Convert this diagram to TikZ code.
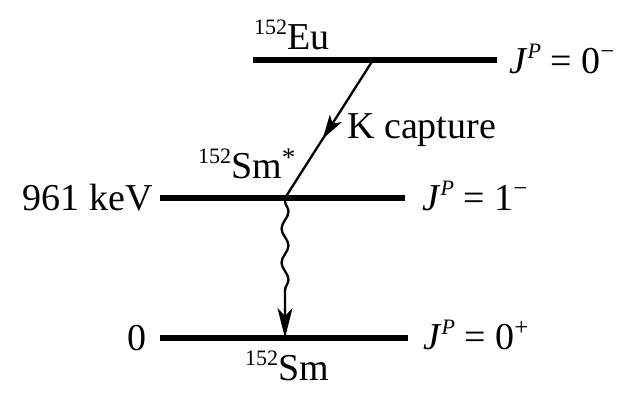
\documentclass[tikz,border=0pt]{standalone}
\usepackage{fontspec}
\setmainfont{Liberation Serif}
\usetikzlibrary{arrows.meta,decorations.pathmorphing,decorations.markings}
\newcommand{\sps}[1]{\raisebox{15pt}{\fontsize{22}{23}\selectfont #1}}
\newcommand{\spsign}[1]{\raisebox{14pt}{\fontsize{25}{26}\selectfont #1}}
\newcommand{\spstar}{\raisebox{12pt}{\fontsize{27}{28}\selectfont *}}
\begin{document}
\begin{tikzpicture}[x=1pt,y=-1pt,
  level/.style={line width=5.5pt},
  lbl/.style={inner sep=0pt, font=\fontsize{38}{40}\selectfont},
  tipend/.style={-{Stealth[length=30pt,width=15pt,inset=8pt]}},
  trans/.style={line width=2.3pt},
]
\useasboundingbox[fill=white] (0,0) rectangle (628,401);
% level end points
\coordinate (euL) at (253,60);  \coordinate (euR) at (497,60);
\coordinate (smxL) at (160,198); \coordinate (smxR) at (405,198);
\coordinate (smL) at (160,338);  \coordinate (smR) at (408,338);
\coordinate (eu) at (373,60);
\coordinate (smx) at (285,198);
\coordinate (sm) at (285,338);
% levels
\draw[level] (euL) -- (euR);
\draw[level] (smxL) -- (smxR);
\draw[level] (smL) -- (smR);
% K capture
\draw[trans, decoration={markings, mark=at position 0.57 with {\arrow{Stealth[length=24pt,width=14pt,inset=6pt]}}}, postaction={decorate}] (eu) -- (smx);
% gamma
\draw[trans, tipend, decorate, decoration={snake, amplitude=3.5pt, segment length=34pt, pre length=3pt, post length=36pt}] (smx) -- (sm);
% labels
\node[lbl, anchor=base west] (leu) at (254,50) {\sps{152}Eu};
\node[lbl, anchor=base west] (lsmx) at (198,178) {\sps{152}Sm\spstar};
\node[lbl, anchor=base west] (lsm) at (245,380) {\sps{152}Sm};
\node[lbl, anchor=base west] (lk) at (347,138) {K capture};
\node[lbl, anchor=east] (le1) at (153,198) {961 keV};
\node[lbl, anchor=east] (le0) at (147,338) {0};
\node[lbl, anchor=base west] (j0) at (509,74) {\textit{J}\sps{\textit{P}} = 0\spsign{−}};
\node[lbl, anchor=base west] (j1) at (422,210) {\textit{J}\sps{\textit{P}} = 1\spsign{−}};
\node[lbl, anchor=base west] (j2) at (423,349) {\textit{J}\sps{\textit{P}} = 0\spsign{+}};
\end{tikzpicture}
\end{document}
